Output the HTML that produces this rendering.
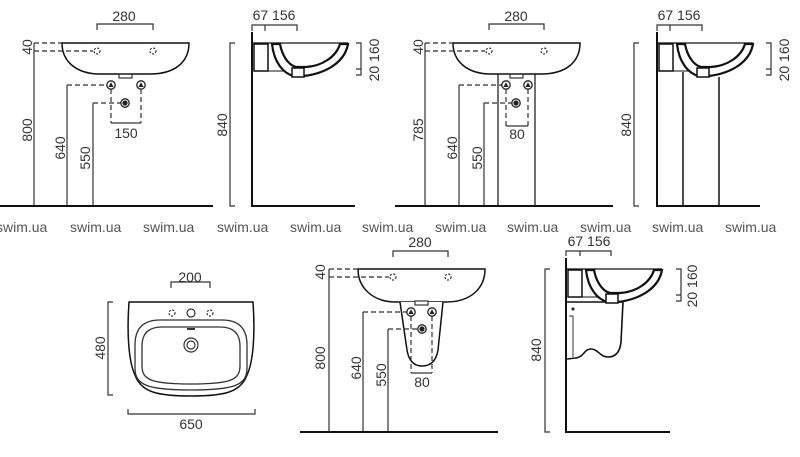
<!DOCTYPE html>
<html><head><meta charset="utf-8"><style>
html,body{margin:0;padding:0;background:#fff;}
svg{display:block;}
text{font-family:"Liberation Sans Narrow","Liberation Sans",sans-serif;fill:#333;}
.d{font-size:14px;}
.w{font-size:14px;fill:#555;font-family:"Liberation Sans",sans-serif;}
</style></head><body>
<svg width="800" height="457" viewBox="0 0 800 457" xmlns="http://www.w3.org/2000/svg">
<defs>
<g id="valve"><circle r="4.2" fill="#fff" stroke="#222" stroke-width="1.3"/><path d="M0,-2.8 L2.6,2 L-2.6,2Z" fill="#222"/></g>
<g id="dvalve"><circle r="4.2" fill="#fff" stroke="#222" stroke-width="1.3"/><circle r="2.6" fill="#222"/></g>
<g id="prof" fill="none" stroke="#111">
<line x1="0" y1="0" x2="96" y2="0" stroke-width="1.3"/>
<rect x="2" y="1" width="14" height="27" stroke-width="1.5"/>
<line x1="16" y1="28" x2="46" y2="28" stroke-width="1"/>
<path d="M20,1 C22,20 32,31 42,33 L52,33 C76,30 93,18 96,1 L88,1 C84,14 70,23 54,24 L44,24 C36,22 30,12 28,1 Z" fill="#fff" stroke-width="2.2"/>
<rect x="40" y="25" width="12" height="9" fill="#fff" stroke-width="1.5"/>
</g>
</defs>

<g class="w">
<text x="-4" y="232" class="w">swim.ua</text><text x="70" y="232" class="w">swim.ua</text><text x="143" y="232" class="w">swim.ua</text><text x="217" y="232" class="w">swim.ua</text><text x="290" y="232" class="w">swim.ua</text><text x="362" y="232" class="w">swim.ua</text><text x="435" y="232" class="w">swim.ua</text><text x="507" y="232" class="w">swim.ua</text><text x="580" y="232" class="w">swim.ua</text><text x="652" y="232" class="w">swim.ua</text><text x="725" y="232" class="w">swim.ua</text>
</g>

<!-- PANEL 1 -->
<g stroke="#333" fill="none" stroke-width="1.2">
<path d="M97,30 V24 H153 V30"/>
<path d="M62,43 H189 C189,62 175,74 150,74 H100 C77,74 62,62 62,43Z" stroke="#111" stroke-width="1.5"/>
<rect x="119" y="74" width="13" height="4"/>
<circle cx="97" cy="51" r="3" stroke-dasharray="2 1.5"/><circle cx="153" cy="51" r="3" stroke-dasharray="2 1.5"/>
<path d="M34,43 H62 M34,51 H93" stroke-dasharray="5 3"/>
<path d="M34,43 V206"/>
<path d="M67,206 V85 M93,206 V103"/>
<path d="M67,85 H107 M93,103 H121 M111,89 V123 M141,89 V123" stroke-dasharray="5 3"/>
<path d="M111,123 H141"/>
<line x1="0" y1="206" x2="213" y2="206" stroke="#111" stroke-width="2"/>
</g>
<use href="#valve" x="111" y="85"/><use href="#valve" x="141" y="85"/><use href="#dvalve" x="125" y="103"/>
<text class="d" x="124" y="21" text-anchor="middle">280</text>
<text class="d" x="126" y="138" text-anchor="middle">150</text>
<text class="d" transform="translate(32,47) rotate(-90)" text-anchor="middle">40</text>
<text class="d" transform="translate(32,130) rotate(-90)" text-anchor="middle">800</text>
<text class="d" transform="translate(65,148) rotate(-90)" text-anchor="middle">640</text>
<text class="d" transform="translate(90,158) rotate(-90)" text-anchor="middle">550</text>

<!-- PANEL 2 -->
<g stroke="#333" fill="none" stroke-width="1.2">
<path d="M252,31 V25 H297 V31 M265,25 V31"/>
<path d="M235,43 H230 V206 H235"/>
<path d="M356,43 H361 V75 H356 M356,69 H361"/>
<line x1="252" y1="32" x2="252" y2="207" stroke="#111" stroke-width="2"/>
<line x1="251" y1="206" x2="355" y2="206" stroke="#111" stroke-width="2"/>
</g>
<use href="#prof" x="252" y="43"/>
<text class="d" x="274" y="20" text-anchor="middle">67 156</text>
<text class="d" transform="translate(227,125) rotate(-90)" text-anchor="middle">840</text>
<text class="d" transform="translate(379,60) rotate(-90)" text-anchor="middle">20 160</text>

<!-- PANEL 3 -->
<g stroke="#333" fill="none" stroke-width="1.2">
<path d="M489,30 V24 H544 V30"/>
<path d="M453,43 H580 C580,62 566,74 541,74 H491 C468,74 453,62 453,43Z" stroke="#111" stroke-width="1.5"/>
<rect x="510" y="74" width="13" height="4"/>
<circle cx="489" cy="51" r="3" stroke-dasharray="2 1.5"/><circle cx="544" cy="51" r="3" stroke-dasharray="2 1.5"/>
<path d="M425,43 H453 M425,51 H485" stroke-dasharray="5 3"/>
<path d="M425,43 V206"/>
<path d="M498,74 V206 M535,74 V206" stroke="#111"/>
<path d="M459,206 V85 M484,206 V103"/>
<path d="M459,85 H502 M484,103 H512 M506,89 V126 M528,89 V126" stroke-dasharray="5 3"/>
<path d="M506,126 H528"/>
<line x1="395" y1="206" x2="613" y2="206" stroke="#111" stroke-width="2"/>
</g>
<use href="#valve" x="506" y="85"/><use href="#valve" x="528" y="85"/><use href="#dvalve" x="516" y="103"/>
<text class="d" x="516" y="21" text-anchor="middle">280</text>
<text class="d" x="517" y="139" text-anchor="middle">80</text>
<text class="d" transform="translate(423,47) rotate(-90)" text-anchor="middle">40</text>
<text class="d" transform="translate(423,130) rotate(-90)" text-anchor="middle">785</text>
<text class="d" transform="translate(457,148) rotate(-90)" text-anchor="middle">640</text>
<text class="d" transform="translate(482,158) rotate(-90)" text-anchor="middle">550</text>

<!-- PANEL 4 -->
<g stroke="#333" fill="none" stroke-width="1.2">
<path d="M657,31 V25 H702 V31 M670,25 V31"/>
<path d="M639,43 H634 V206 H639"/>
<path d="M766,43 H771 V75 H766 M766,69 H771"/>
<path d="M683,72 V206 M719,77 V206" stroke="#111" stroke-width="1.5"/>
<line x1="657" y1="32" x2="657" y2="207" stroke="#111" stroke-width="2"/>
<line x1="656" y1="206" x2="760" y2="206" stroke="#111" stroke-width="2"/>
</g>
<use href="#prof" x="657" y="43"/>
<text class="d" x="679" y="20" text-anchor="middle">67 156</text>
<text class="d" transform="translate(631,125) rotate(-90)" text-anchor="middle">840</text>
<text class="d" transform="translate(789,60) rotate(-90)" text-anchor="middle">20 160</text>

<!-- TOP VIEW -->
<g stroke="#333" fill="none" stroke-width="1.2">
<path d="M171,288 V282 H210 V288"/>
<path d="M113,302 H108 V395 H113"/>
<path d="M128,409 V414 H255 V409"/>
<path d="M129,302 H253 C255,330 254,360 247,375 C241,392 225,396 191,396 C157,396 141,392 135,375 C128,360 127,330 129,302Z" stroke="#111" stroke-width="1.5"/>
<path d="M160,320 H222 C240,320 247,330 247,345 V368 C247,385 235,390 191,390 C147,390 135,385 135,368 V345 C135,330 142,320 160,320Z" stroke-width="1.3"/>
<path d="M162,327 H220 C234,327 240,334 240,346 V366 C240,380 230,384 191,384 C152,384 142,380 142,366 V346 C142,334 148,327 162,327Z" stroke-width="1.3"/>
<circle cx="172" cy="313" r="3" stroke-dasharray="2 1.5"/><circle cx="210" cy="313" r="3" stroke-dasharray="2 1.5"/>
<circle cx="191" cy="313" r="4"/>
<circle cx="191" cy="345" r="7"/><circle cx="191" cy="345" r="4"/>
</g>
<rect x="187" y="328" width="8" height="2" fill="#333"/>
<text class="d" x="190" y="282" text-anchor="middle">200</text>
<text class="d" x="191" y="429" text-anchor="middle">650</text>
<text class="d" transform="translate(105,348) rotate(-90)" text-anchor="middle">480</text>

<!-- BOTTOM MIDDLE -->
<g stroke="#333" fill="none" stroke-width="1.2">
<path d="M393,257 V251 H448 V257"/>
<path d="M358,269 H485 C485,288 471,302 446,302 H396 C373,302 358,288 358,269Z" stroke="#111" stroke-width="1.5"/>
<path d="M400,302 L407,350 C409,362 415,366 422,366 C430,366 436,362 438,350 L443,302" fill="#fff" stroke="#111" stroke-width="1.5"/>
<rect x="415" y="301" width="13" height="4" fill="#fff"/>
<circle cx="393" cy="277" r="3" stroke-dasharray="2 1.5"/><circle cx="448" cy="277" r="3" stroke-dasharray="2 1.5"/>
<path d="M329,269 H358 M329,277 H389" stroke-dasharray="5 3"/>
<path d="M329,269 V432"/>
<path d="M363,432 V312 M388,432 V329"/>
<path d="M363,312 H407 M388,329 H418 M411,316 V373 M432,316 V373" stroke-dasharray="5 3"/>
<path d="M411,373 H432"/>
<line x1="300" y1="432" x2="498" y2="432" stroke="#111" stroke-width="2"/>
</g>
<use href="#valve" x="411" y="312"/><use href="#valve" x="432" y="312"/><use href="#dvalve" x="422" y="329"/>
<text class="d" x="420" y="247" text-anchor="middle">280</text>
<text class="d" x="422" y="387" text-anchor="middle">80</text>
<text class="d" transform="translate(325,272) rotate(-90)" text-anchor="middle">40</text>
<text class="d" transform="translate(325,358) rotate(-90)" text-anchor="middle">800</text>
<text class="d" transform="translate(361,368) rotate(-90)" text-anchor="middle">640</text>
<text class="d" transform="translate(386,375) rotate(-90)" text-anchor="middle">550</text>

<!-- BOTTOM RIGHT -->
<g stroke="#333" fill="none" stroke-width="1.2">
<path d="M566,256 V251 H611 V256 M580,251 V256"/>
<path d="M550,269 H545 V432 H550"/>
<path d="M676,269 H681 V301 H676 M676,295 H681"/>
<path d="M567,302 H623 L621,342 C620,352 616,357 608,357 C600,357 598,349 591,349 C584,349 584,357 576,358 L567,359" stroke="#111" stroke-width="1.6"/>
<path d="M569,316 H573 V357" stroke-width="1"/>
<circle cx="573" cy="309" r="1" fill="#333"/>
<line x1="566" y1="258" x2="566" y2="433" stroke="#111" stroke-width="2"/>
<line x1="565" y1="432" x2="670" y2="432" stroke="#111" stroke-width="2"/>
</g>
<use href="#prof" x="566" y="269"/>
<text class="d" x="589" y="246" text-anchor="middle">67 156</text>
<text class="d" transform="translate(541,350) rotate(-90)" text-anchor="middle">840</text>
<text class="d" transform="translate(697,286) rotate(-90)" text-anchor="middle">20 160</text>
</svg>
</body></html>
